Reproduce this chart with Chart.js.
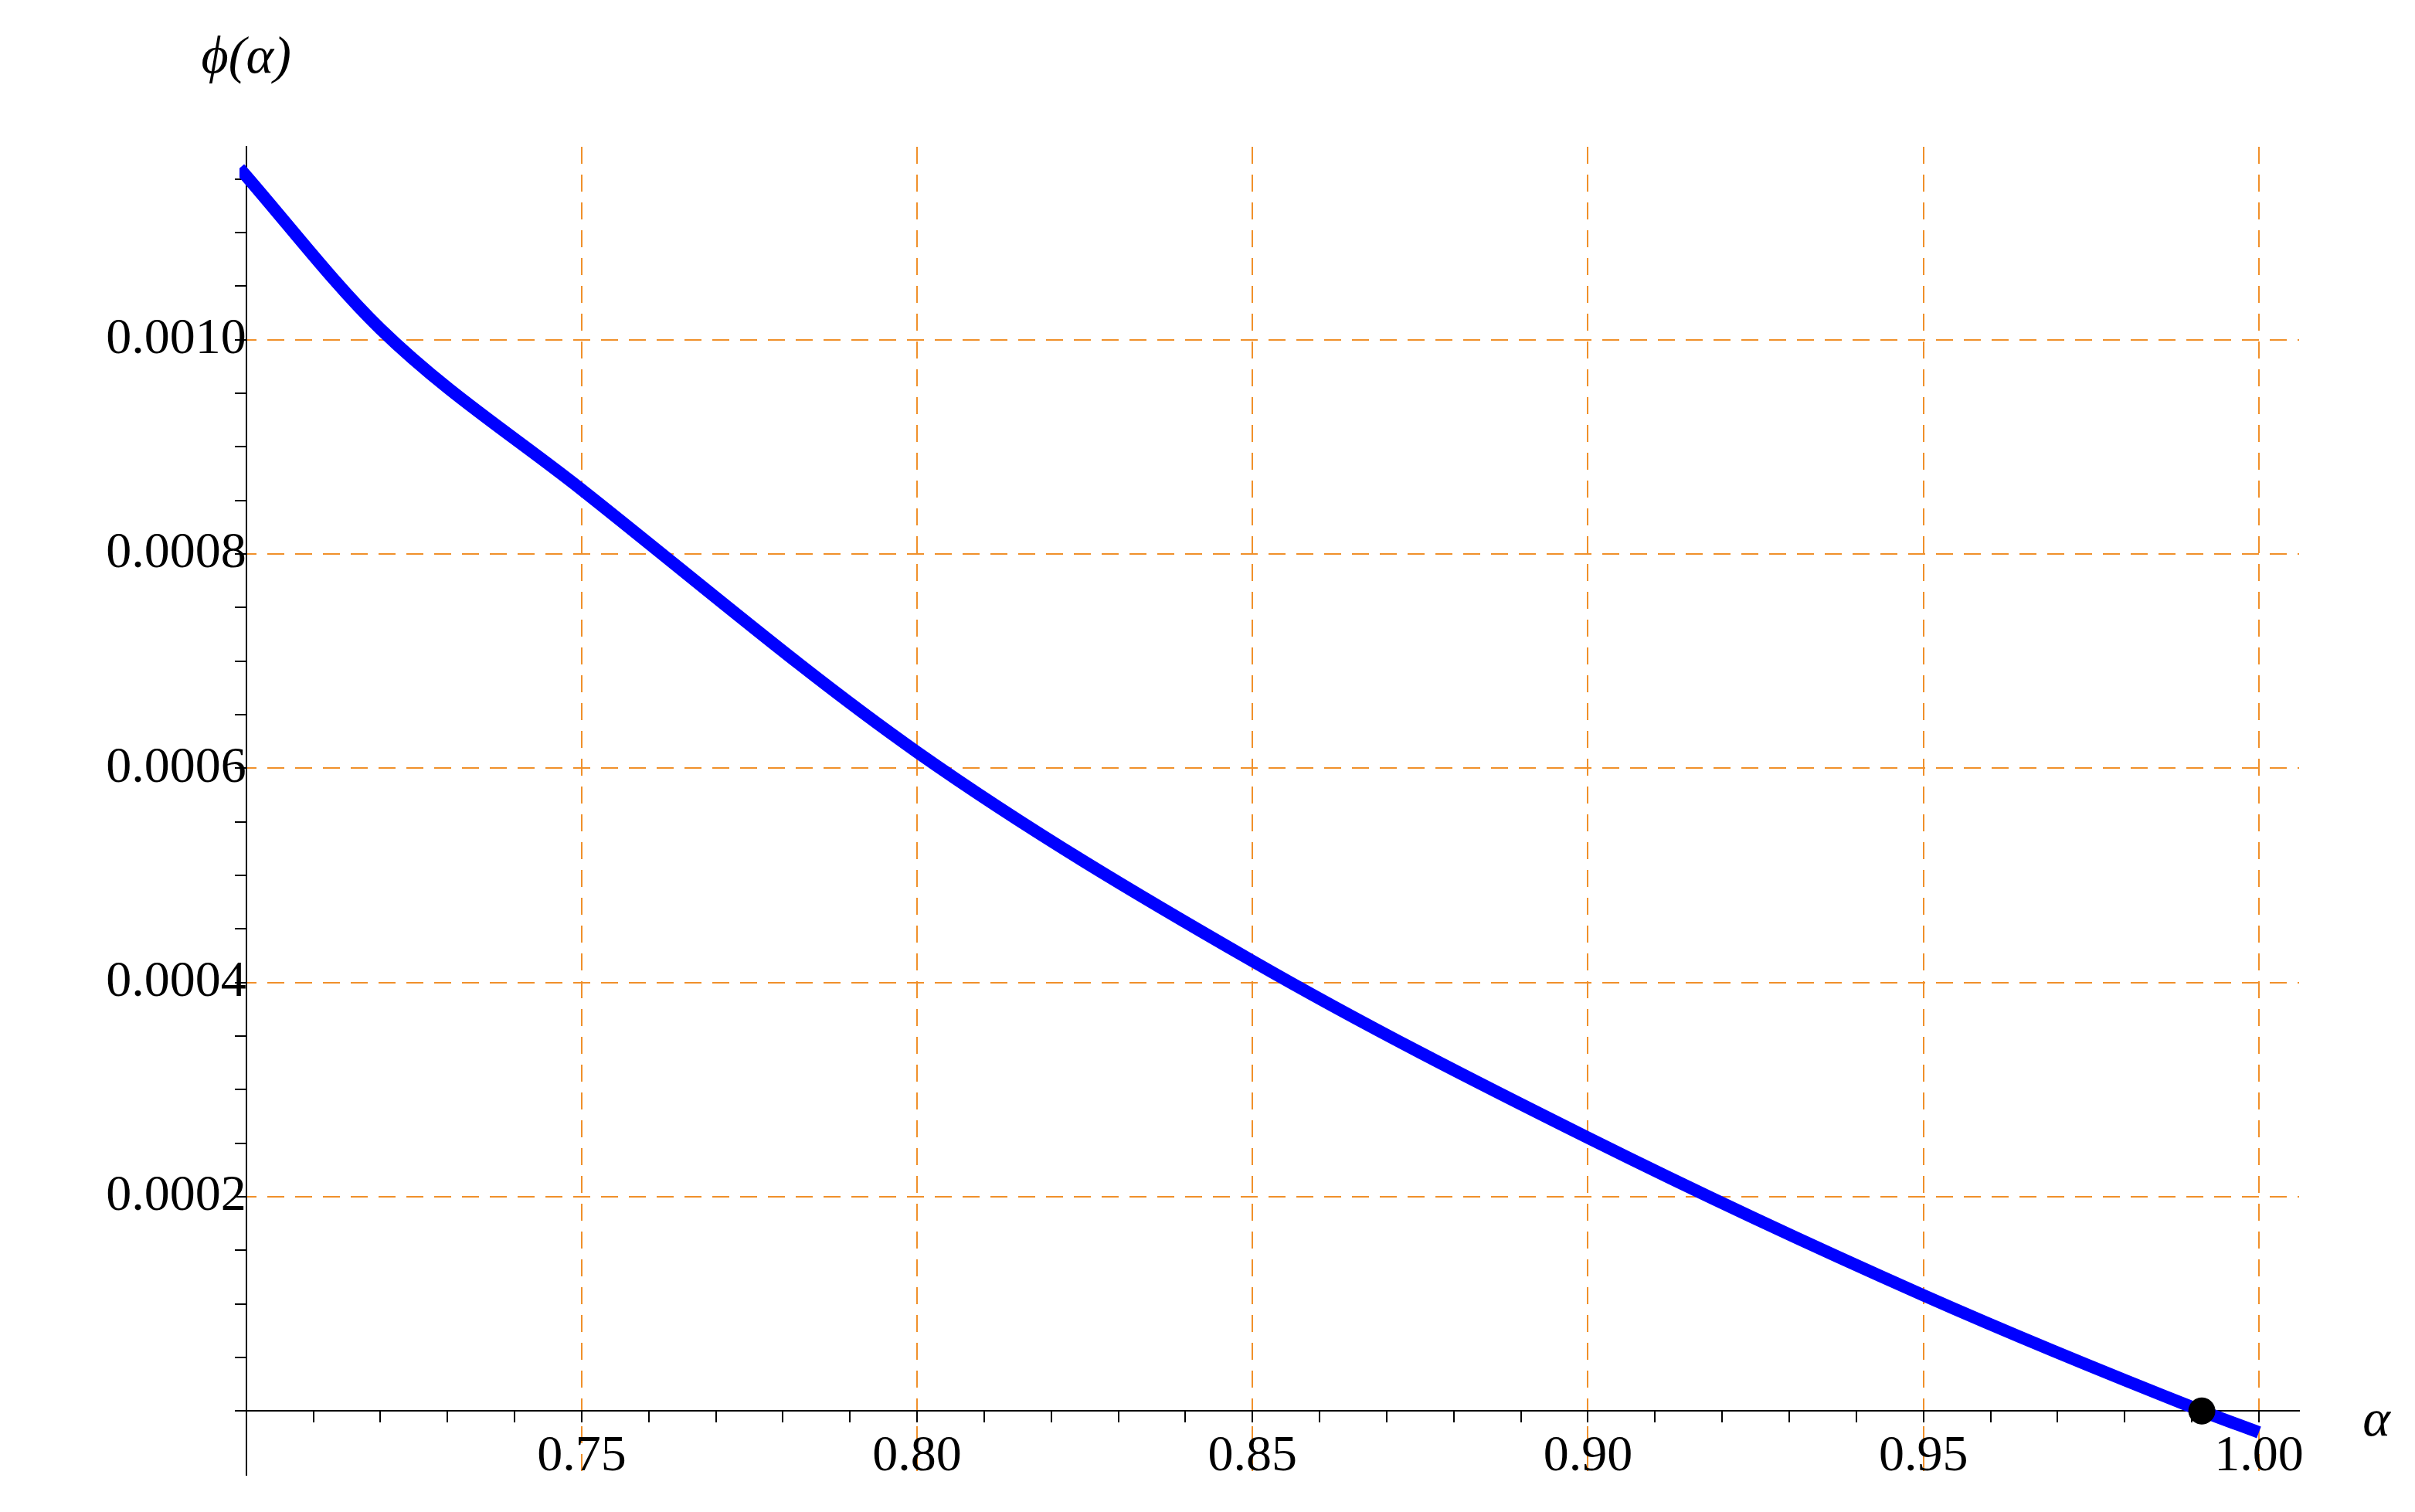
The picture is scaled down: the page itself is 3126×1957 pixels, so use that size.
<!DOCTYPE html>
<html><head><meta charset="utf-8">
<script src="https://cdn.jsdelivr.net/npm/chart.js@4"></script>
<style>body{margin:0;background:#fff}canvas{display:block}</style>
</head><body>
<canvas id="c" width="3126" height="1957"></canvas>
<script>
const alphaVals = [0.699, 0.72, 0.75, 0.80, 0.85, 0.90, 0.95, 0.9915, 1.00];
const phiVals = [0.001160, 0.001010, 0.000860, 0.000615, 0.000420, 0.000255, 0.000108, 0.0, -0.000020];
const markerAlpha = [0.9915];
const markerPhi = [0];
const xMajor = [0.75, 0.80, 0.85, 0.90, 0.95, 1.00];
const yMajor = [0.0002, 0.0004, 0.0006, 0.0008, 0.0010];

const isMaj = (v, arr) => arr.some(m => Math.abs(m - v) < 1e-9);
const FONT = '"Liberation Serif", "DejaVu Serif", serif';

const titles = {
  id: 'titles',
  afterDraw(ch) {
    const c = ch.ctx, x = ch.scales.x, y = ch.scales.y;
    c.save();
    c.fillStyle = '#000';
    c.font = 'italic 68px ' + FONT;
    c.textAlign = 'center'; c.textBaseline = 'middle';
    c.fillText('\u03D5(\u03B1)', x.getPixelForValue(0.70), 76);
    c.fillText('\u03B1', 3076, y.getPixelForValue(0) + 14);
    c.restore();
  }
};

new Chart(document.getElementById('c'), {
  type: 'scatter',
  data: {
    datasets: [
      { data: markerAlpha.map((a, i) => ({x: a, y: markerPhi[i]})), pointRadius: 17, backgroundColor: '#000', borderColor: '#000', showLine: false, order: 0 },
      { data: alphaVals.map((a, i) => ({x: a, y: phiVals[i]})), showLine: true, borderColor: '#0000ff', borderWidth: 16, pointRadius: 0, cubicInterpolationMode: 'monotone', order: 1 }
    ]
  },
  options: {
    responsive: false, devicePixelRatio: 1, animation: false,
    layout: { padding: { left: 310, right: 150, top: 190, bottom: 20 } },
    plugins: { legend: { display: false }, tooltip: { enabled: false } },
    scales: {
      x: {
        type: 'linear', min: 0.699, max: 1.006, position: { y: 0 },
        afterBuildTicks(s) { const t = []; for (let i = 70; i <= 100; i++) t.push({ value: i / 100 }); s.ticks = t; },
        ticks: { font: { size: 66, family: FONT }, color: '#000', maxRotation: 0, autoSkip: false, padding: 6,
          callback: v => isMaj(v, xMajor) ? v.toFixed(2) : '' },
        grid: { color: c => isMaj(c.tick.value, xMajor) ? '#f0902a' : 'rgba(0,0,0,0)', lineWidth: 2, tickColor: '#000', tickLength: 14, drawOnChartArea: true },
        border: { color: '#000', width: 2, dash: [22, 14] }
      },
      y: {
        type: 'linear', min: -0.00006, max: 0.00118, position: { x: 0.70 },
        afterBuildTicks(s) { const t = []; for (let i = 0; i <= 23; i++) t.push({ value: i * 0.00005 }); s.ticks = t; },
        ticks: { font: { size: 66, family: FONT }, color: '#000', autoSkip: false, padding: 8,
          callback: v => isMaj(v, yMajor) ? v.toFixed(4) : '' },
        grid: { color: c => isMaj(c.tick.value, yMajor) ? '#f0902a' : 'rgba(0,0,0,0)', lineWidth: 2, tickColor: '#000', tickLength: 14 },
        border: { color: '#000', width: 2, dash: [22, 14] }
      }
    }
  },
  plugins: [titles]
});
</script>
</body></html>
